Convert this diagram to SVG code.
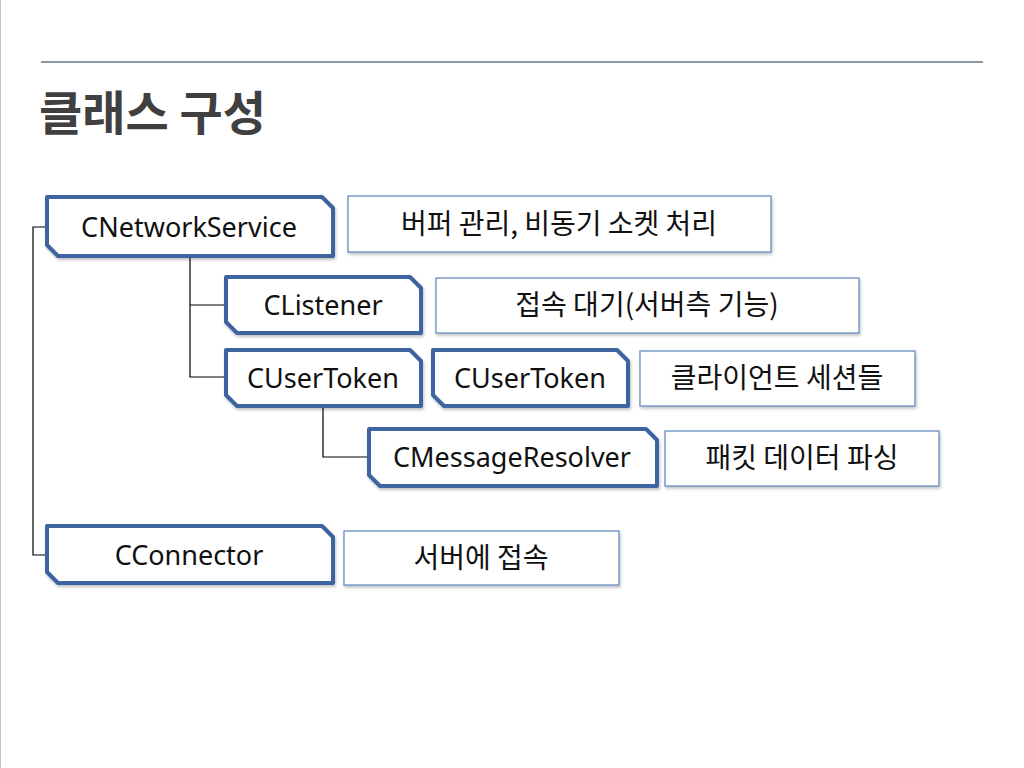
<svg xmlns="http://www.w3.org/2000/svg" width="1024" height="768" viewBox="0 0 1024 768">
<style>
.node{fill:#fff;stroke:#3e64a0;stroke-width:4;stroke-linejoin:round}
.desc{fill:#fff;stroke:#5a84c0;stroke-width:1.2}
.nt{font-family:"Noto Sans","Open Sans","Noto Sans CJK KR",sans-serif;font-size:27px;fill:#111;text-anchor:middle}
.dt{font-family:"Noto Sans CJK KR","Noto Sans",sans-serif;font-size:28px;fill:#111;text-anchor:middle}
.con{fill:none;stroke:#000;stroke-width:1.2}
</style>
<defs>
<filter id="sh" x="-10%" y="-20%" width="120%" height="150%">
<feDropShadow dx="1" dy="2" stdDeviation="1.5" flood-color="#000" flood-opacity="0.25"/>
</filter>
</defs>
<rect width="1024" height="768" fill="#fff"/>
<line x1="0.5" y1="0" x2="0.5" y2="768" stroke="#c4c4c4" stroke-width="1"/>
<line x1="41" y1="62" x2="983" y2="62" stroke="#8a98aa" stroke-width="2"/>
<text x="39" y="130" font-family="'Noto Sans CJK KR','Noto Sans',sans-serif" font-size="47" font-weight="bold" fill="#404040">클래스 구성</text>

<g id="connectors">
<path class="con" d="M47,227 H33 V555 H47"/>
<path class="con" d="M190,256 V377 H226 M190,305 H226"/>
<path class="con" d="M323,406 V457 H369"/>
</g>

<g id="n-networkservice">
<path class="node" filter="url(#sh)" d="M47,197 H322 L333,208 V256 H58 L47,245 Z"/>
<text class="nt" x="189" y="237">CNetworkService</text>
</g>
<g id="d-networkservice">
<rect class="desc" filter="url(#sh)" x="348" y="196" width="423" height="56"/>
<text class="dt" x="559" y="234">버퍼 관리, 비동기 소켓 처리</text>
</g>
<g id="n-listener">
<path class="node" filter="url(#sh)" d="M226,277 H410 L421,288 V333 H237 L226,322 Z"/>
<text class="nt" x="323" y="315">CListener</text>
</g>
<g id="d-listener">
<rect class="desc" filter="url(#sh)" x="436" y="278" width="423" height="55"/>
<text class="dt" x="647" y="315">접속 대기(서버측 기능)</text>
</g>
<g id="n-usertoken1">
<path class="node" filter="url(#sh)" d="M226,350 H410 L421,361 V406 H237 L226,395 Z"/>
<text class="nt" x="323" y="388">CUserToken</text>
</g>
<g id="n-usertoken2">
<path class="node" filter="url(#sh)" d="M433,350 H617 L628,361 V406 H444 L433,395 Z"/>
<text class="nt" x="530" y="388">CUserToken</text>
</g>
<g id="d-usertoken">
<rect class="desc" filter="url(#sh)" x="640" y="351" width="275" height="55"/>
<text class="dt" x="777" y="388">클라이언트 세션들</text>
</g>
<g id="n-messageresolver">
<path class="node" filter="url(#sh)" d="M369,429 H646 L657,440 V486 H380 L369,475 Z"/>
<text class="nt" x="512" y="467">CMessageResolver</text>
</g>
<g id="d-messageresolver">
<rect class="desc" filter="url(#sh)" x="665" y="431" width="274" height="55"/>
<text class="dt" x="802" y="468">패킷 데이터 파싱</text>
</g>
<g id="n-connector">
<path class="node" filter="url(#sh)" d="M47,526 H322 L333,537 V583 H58 L47,572 Z"/>
<text class="nt" x="189" y="565">CConnector</text>
</g>
<g id="d-connector">
<rect class="desc" filter="url(#sh)" x="344" y="531" width="275" height="54"/>
<text class="dt" x="481" y="568">서버에 접속</text>
</g>
</svg>
